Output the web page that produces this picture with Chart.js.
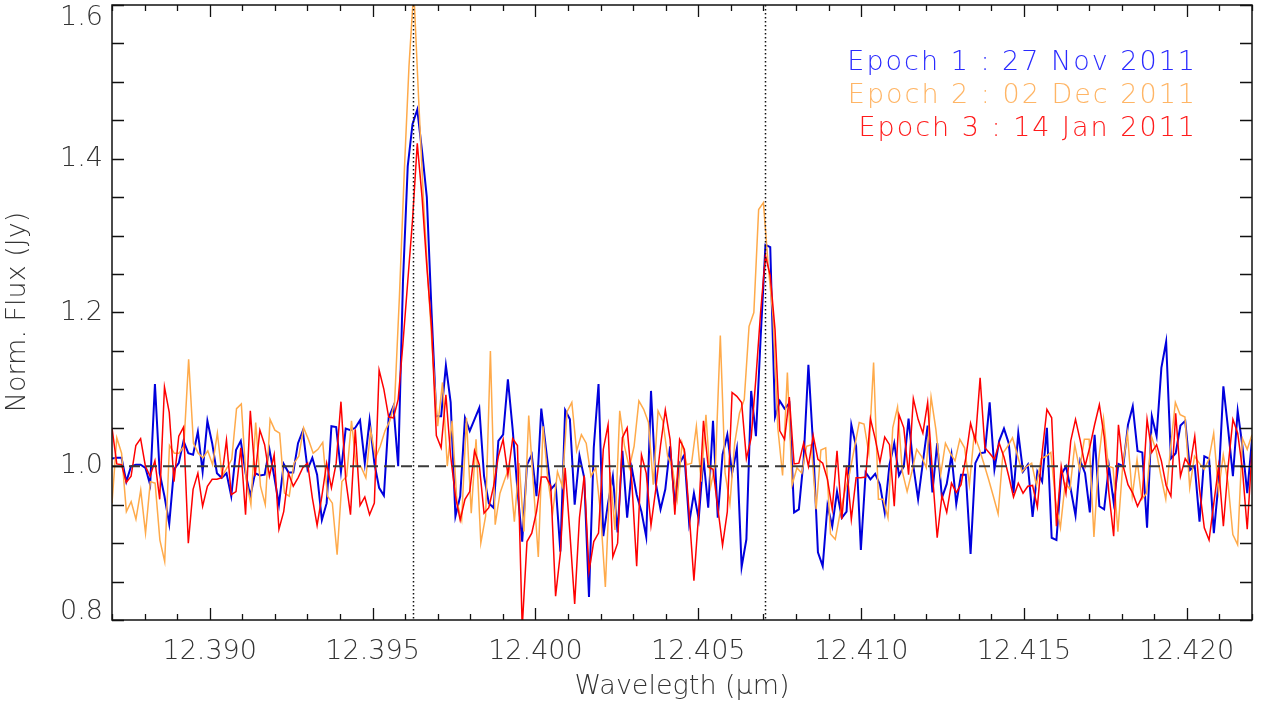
<!DOCTYPE html>
<html>
<head>
<meta charset="utf-8">
<script src="https://cdn.jsdelivr.net/npm/chart.js@4.4.1/dist/chart.umd.min.js"></script>
<style>
  html, body { margin: 0; padding: 0; background: #fff; }
  #wrap { width: 1263px; height: 706px; }
</style>
</head>
<body>
<div id="wrap"><canvas id="spectrum"></canvas></div>
<script>
// axis ranges and ticks
const WAVE_MIN = 12.387;
const WAVE_MAX = 12.422;
const FLUX_MIN = 0.8;
const FLUX_MAX = 1.6;
const X_LABELS = ['12.390', '12.395', '12.400', '12.405', '12.410', '12.415', '12.420'];
const Y_LABELS = ['0.8', '1.0', '1.2', '1.4', '1.6'];
const LINE_CENTERS = [12.39625, 12.40704];
const CONTINUUM = 1.0;
const EPOCHS = ['Epoch 1 : 27 Nov 2011', 'Epoch 2 : 02 Dec 2011', 'Epoch 3 : 14 Jan 2011'];

// normalised flux, one value per spectral pixel, evenly spaced over WAVE_MIN..WAVE_MAX
const EPOCH1 = [
  1.01, 1.011, 1.011, 0.98, 1.0, 1.002, 1.002, 0.998, 0.976, 1.107,
  0.991, 0.961, 0.925, 0.996, 1.004, 1.033, 1.017, 1.015, 1.045, 0.993,
  1.059, 1.03, 0.991, 0.985, 0.991, 0.961, 1.021, 1.033, 0.991, 0.961,
  0.991, 0.988, 0.989, 1.022, 0.987, 0.95, 1.003, 0.992, 0.992, 1.03,
  1.046, 0.996, 1.011, 0.989, 0.93, 0.952, 1.052, 1.051, 0.993, 1.049,
  1.047, 1.05, 1.06, 1.004, 1.06, 1.004, 0.972, 0.962, 1.063, 1.078,
  1.0, 1.24, 1.39, 1.445, 1.464, 1.41, 1.35, 1.2, 1.065, 1.065,
  1.131, 1.083, 0.935, 0.961, 1.063, 1.046, 1.061, 1.076, 0.987, 0.952,
  0.946, 1.033, 1.041, 1.113, 1.048, 0.97, 0.902, 1.002, 1.015, 0.961,
  1.075, 1.022, 0.97, 0.977, 0.889, 1.073, 1.061, 0.95, 1.014, 0.985,
  0.83, 1.024, 1.107, 0.909, 0.952, 0.987, 0.914, 1.02, 0.933, 0.997,
  0.963, 0.941, 0.908, 1.098, 0.978, 0.944, 0.97, 1.026, 0.95, 1.004,
  1.015, 0.926, 0.965, 0.931, 1.011, 0.946, 1.059, 0.933, 1.015, 1.041,
  0.991, 1.023, 0.869, 0.905, 1.098, 1.039, 1.169, 1.288, 1.285, 1.064,
  1.085, 1.075, 1.082, 0.94, 0.944, 1.009, 1.132, 1.026, 0.888, 0.87,
  0.949, 0.922, 0.967, 0.933, 0.941, 1.054, 1.026, 0.891, 0.992, 0.983,
  0.99, 0.976, 0.94, 1.002, 1.03, 0.988, 1.0, 1.062, 1.0, 0.957,
  1.005, 1.053, 0.966, 1.03, 0.959, 0.977, 1.015, 0.951, 0.989, 0.989,
  0.886, 1.004, 1.017, 1.018, 1.083, 0.996, 1.033, 1.049, 1.03, 0.965,
  1.043, 0.993, 1.002, 0.934, 0.993, 0.98, 1.05, 0.907, 0.904, 0.989,
  1.0, 0.97, 0.936, 1.007, 0.991, 0.94, 1.041, 0.948, 0.944, 1.0,
  0.953, 1.003, 1.0, 1.054, 1.078, 1.02, 1.018, 0.92, 1.065, 1.039,
  1.128, 1.162, 1.01, 1.017, 1.053, 1.059, 0.995, 1.0, 0.928, 1.013,
  1.01, 0.913, 0.98, 1.104, 1.048, 0.987, 1.072, 1.026, 0.965, 1.035
];
const EPOCH2 = [
  0.952, 1.037, 1.017, 0.941, 0.954, 0.931, 0.969, 0.913, 0.98, 0.978,
  0.904, 0.876, 1.027, 1.017, 1.017, 1.026, 1.139, 1.03, 1.017, 1.011,
  1.02, 1.002, 1.043, 0.987, 0.998, 1.009, 1.075, 1.081, 0.983, 0.95,
  1.057, 0.974, 0.95, 1.061, 1.047, 1.043, 0.965, 0.961, 1.004, 1.013,
  1.05, 1.035, 1.017, 1.022, 1.031, 0.961, 0.952, 0.885, 0.98, 0.987,
  1.059, 1.0, 0.999, 0.985, 1.047, 1.011, 1.026, 1.046, 1.059, 1.083,
  1.22, 1.38, 1.52, 1.62, 1.48, 1.35, 1.24, 1.139, 1.052, 1.109,
  1.0, 1.059, 0.954, 0.93, 1.063, 0.939, 1.035, 0.90, 0.935, 1.15,
  0.924, 0.965, 0.983, 1.0, 0.928, 1.004, 0.915, 1.066, 0.974, 0.882,
  1.052, 0.983, 0.939, 0.993, 0.974, 1.071, 1.083, 1.02, 1.041, 1.03,
  0.987, 0.998, 0.939, 0.843, 0.992, 0.917, 1.072, 1.026, 0.998, 1.026,
  1.085, 1.074, 1.057, 0.976, 1.072, 1.059, 1.013, 0.998, 0.957, 1.03,
  1.002, 1.004, 1.052, 0.98, 1.067, 0.974, 1.004, 1.17, 0.991, 0.951,
  1.03, 1.069, 1.087, 1.182, 1.2, 1.334, 1.343, 1.261, 1.195, 1.05,
  0.988, 1.122, 0.976, 0.998, 0.991, 1.026, 1.028, 0.944, 1.021, 1.024,
  0.912, 0.905, 0.939, 0.967, 0.991, 1.024, 1.057, 1.055, 1.017, 1.135,
  0.957, 0.957, 0.933, 1.05, 1.077, 0.993, 0.967, 0.993, 1.022, 1.013,
  0.998, 1.09, 1.048, 0.989, 1.03, 1.017, 1.007, 1.035, 1.024, 0.976,
  1.041, 1.024, 1.004, 0.983, 0.961, 0.938, 1.017, 1.026, 1.037, 1.015,
  0.993, 1.0, 1.004, 0.975, 1.01, 1.013, 1.018, 0.955, 0.92, 0.978,
  0.97, 1.028, 0.996, 1.035, 1.035, 0.908, 1.009, 1.062, 1.0, 0.998,
  0.915, 1.0, 1.043, 0.961, 1.009, 0.957, 0.965, 1.039, 1.02, 0.987,
  0.957, 1.024, 1.083, 1.067, 1.064, 0.972, 1.013, 1.004, 0.996, 1.009,
  1.043, 0.967, 1.015, 0.978, 0.911, 0.898, 1.036, 1.022, 1.041
];
const EPOCH3 = [
  1.05, 1.003, 1.002, 0.979, 0.987, 1.027, 1.036, 1.0, 0.987, 1.007,
  0.957, 1.103, 1.07, 0.98, 1.039, 1.051, 0.90, 0.97, 0.991, 0.948,
  0.974, 0.983, 0.983, 0.985, 1.034, 0.963, 0.967, 1.024, 0.937, 1.072,
  0.987, 1.047, 1.028, 0.987, 1.015, 0.918, 0.941, 0.991, 0.974, 0.985,
  0.998, 1.004, 0.959, 0.923, 0.961, 1.004, 0.972, 1.004, 1.084, 0.983,
  0.937, 1.048, 0.949, 0.96, 0.937, 0.952, 1.125, 1.10, 1.064, 1.063,
  1.087, 1.16, 1.24, 1.32, 1.42, 1.35, 1.26, 1.18, 1.04, 1.024,
  1.093, 1.013, 0.961, 0.93, 0.957, 0.967, 1.02, 1.002, 0.939, 0.946,
  0.974, 1.013, 1.035, 0.989, 1.036, 1.027, 0.79, 0.902, 0.913, 0.941,
  0.986, 0.986, 0.974, 0.831, 0.887, 0.998, 0.913, 0.821, 0.933, 0.988,
  0.863, 0.902, 0.913, 1.022, 1.054, 0.882, 0.90, 1.037, 1.05, 0.978,
  0.87, 1.015, 0.991, 0.923, 0.97, 1.027, 1.073, 1.035, 0.937, 1.035,
  1.022, 0.939, 0.851, 0.939, 1.059, 0.999, 0.996, 0.946, 0.897, 0.941,
  1.096, 1.091, 1.083, 1.01, 1.037, 1.115, 1.202, 1.274, 1.248, 1.178,
  1.046, 1.035, 1.09, 1.003, 1.004, 1.03, 1.0, 1.04, 1.009, 1.004,
  0.983, 0.944, 1.02, 0.931, 1.001, 0.931, 0.985, 0.985, 0.986, 1.062,
  1.036, 1.005, 1.038, 1.028, 0.948, 1.067, 1.05, 0.989, 1.088, 1.061,
  1.043, 1.083, 0.991, 0.907, 0.962, 0.94, 0.978, 0.966, 0.976, 1.011,
  1.056, 1.033, 1.115, 1.024, 1.017, 1.009, 1.03, 1.012, 0.987, 0.96,
  0.978, 0.965, 0.974, 0.975, 0.947, 1.017, 1.074, 1.063, 0.922, 1.0,
  0.965, 1.033, 1.061, 1.033, 1.0, 1.025, 1.054, 1.08, 1.039, 0.965,
  0.909, 1.054, 1.0, 0.976, 0.965, 0.948, 0.961, 1.061, 1.018, 1.028,
  1.007, 0.975, 0.961, 1.069, 0.987, 1.01, 1.0, 1.039, 0.97, 0.92,
  0.904, 0.952, 1.0, 0.922, 1.0, 1.061, 1.043, 0.996, 0.918, 1.02
];

const COLORS = ['#0000dd', '#ffaa4a', '#ff0000'];
const TEXT_COLORS = ['#2a2aff', '#ffb565', '#ff1a1a'];
const FONT = '200 27px "DejaVu Sans", "Liberation Sans", sans-serif';

function toPoints(flux) {
  const step = (WAVE_MAX - WAVE_MIN) / (flux.length - 1);
  return flux.map((f, i) => ({ x: WAVE_MIN + i * step, y: f }));
}

// IDL style box: inward ticks on all four sides, labels, titles, reference lines, legend
const idlFrame = {
  id: 'idlFrame',
  afterDatasetsDraw(chart) {
    const { ctx, chartArea: a, scales: { x, y } } = chart;
    ctx.save();

    // continuum level
    const yc = y.getPixelForValue(CONTINUUM);
    ctx.strokeStyle = '#3a3a3a';
    ctx.lineWidth = 2;
    ctx.setLineDash([11, 6]);
    ctx.beginPath();
    ctx.moveTo(a.left, yc);
    ctx.lineTo(a.right, yc);
    ctx.stroke();

    // line centres
    ctx.strokeStyle = '#111';
    ctx.lineWidth = 1.5;
    ctx.setLineDash([1.5, 2.5]);
    LINE_CENTERS.forEach(w => {
      const px = Math.round(x.getPixelForValue(w)) + 0.5;
      ctx.beginPath();
      ctx.moveTo(px, a.top);
      ctx.lineTo(px, a.bottom);
      ctx.stroke();
    });
    ctx.setLineDash([]);

    // box
    ctx.strokeStyle = '#111';
    ctx.lineWidth = 1.5;
    ctx.strokeRect(a.left, a.top, a.right - a.left, a.bottom - a.top);

    // x ticks every 0.001, longer every 0.005
    ctx.lineWidth = 1.3;
    ctx.beginPath();
    for (let k = Math.ceil(WAVE_MIN * 1000); k <= Math.floor(WAVE_MAX * 1000); k++) {
      const px = Math.round(x.getPixelForValue(k / 1000)) + 0.5;
      const len = k % 5 === 0 ? 12 : 6;
      ctx.moveTo(px, a.bottom);
      ctx.lineTo(px, a.bottom - len);
      ctx.moveTo(px, a.top);
      ctx.lineTo(px, a.top + len);
    }
    // y ticks every 0.05
    for (let k = 16; k <= 32; k++) {
      const py = Math.round(y.getPixelForValue(k * 0.05)) + 0.5;
      ctx.moveTo(a.left, py);
      ctx.lineTo(a.left + 12, py);
      ctx.moveTo(a.right, py);
      ctx.lineTo(a.right - 12, py);
    }
    ctx.stroke();

    // tick labels
    ctx.font = FONT;
    ctx.fillStyle = '#333';
    ctx.textAlign = 'center';
    ctx.textBaseline = 'middle';
    X_LABELS.forEach(t => {
      ctx.fillText(t, x.getPixelForValue(parseFloat(t)), a.bottom + 32);
    });
    ctx.textAlign = 'right';
    Y_LABELS.forEach(t => {
      let py = y.getPixelForValue(parseFloat(t));
      py = Math.min(Math.max(py, a.top + 13), a.bottom - 8);
      ctx.fillText(t, a.left - 9, py);
    });

    // axis titles
    ctx.textAlign = 'center';
    ctx.fillText('Wavelegth (\u03BCm)', (a.left + a.right) / 2, a.bottom + 67);
    ctx.save();
    ctx.translate(18, 312);
    ctx.rotate(-Math.PI / 2);
    ctx.fillText('Norm. Flux (Jy)', 0, 0);
    ctx.restore();

    // epoch legend
    ctx.textAlign = 'right';
    ctx.letterSpacing = '2px';
    EPOCHS.forEach((label, i) => {
      ctx.fillStyle = TEXT_COLORS[i];
      ctx.fillText(label, 1197, 63 + i * 33);
    });
    ctx.restore();
  }
};

new Chart(document.getElementById('spectrum'), {
  type: 'line',
  data: {
    datasets: [
      { label: EPOCHS[0], data: toPoints(EPOCH1), borderColor: COLORS[0], borderWidth: 2, order: 2 },
      { label: EPOCHS[1], data: toPoints(EPOCH2), borderColor: COLORS[1], borderWidth: 1.5, order: 1 },
      { label: EPOCHS[2], data: toPoints(EPOCH3), borderColor: COLORS[2], borderWidth: 1.5, order: 0 }
    ]
  },
  options: {
    responsive: true,
    maintainAspectRatio: false,
    animation: false,
    layout: { padding: { left: 112, right: 11, top: 5, bottom: 86 } },
    elements: {
      point: { radius: 0 },
      line: { tension: 0, fill: false, borderJoinStyle: 'miter' }
    },
    datasets: { line: { clip: 0 } },
    plugins: {
      legend: { display: false },
      tooltip: { enabled: false }
    },
    scales: {
      x: { type: 'linear', min: WAVE_MIN, max: WAVE_MAX, display: false },
      y: { type: 'linear', min: FLUX_MIN, max: FLUX_MAX, display: false }
    }
  },
  plugins: [idlFrame]
});
</script>
</body>
</html>
